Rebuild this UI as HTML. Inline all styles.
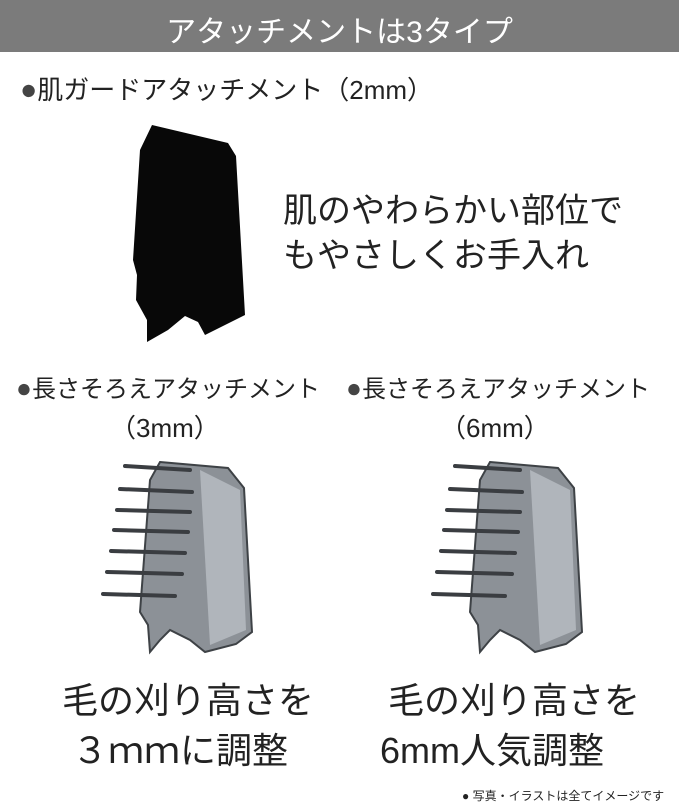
<!DOCTYPE html>
<html><head><meta charset="utf-8"><style>
body{margin:0;width:679px;height:806px;background:#fff;position:relative;overflow:hidden;font-family:"Liberation Sans","Noto Sans CJK JP",sans-serif;color:#222}
.t{position:absolute;white-space:nowrap}
.d{font-size:1.1em;color:#444}
</style></head><body>
<div style="position:absolute;left:0;top:0;width:679px;height:52px;background:#7b7b7b"></div>
<div class="t" style="left:0;width:679px;top:7px;text-align:center;color:#fff;font-size:30px">アタッチメントは3タイプ</div>
<div class="t" style="left:20px;top:70px;font-size:26px"><span class="d">●</span>肌ガードアタッチメント（2mm）</div>
<div class="t" style="left:283px;top:183px;font-size:34px">肌のやわらかい部位で</div>
<div class="t" style="left:283px;top:228px;font-size:34px">もやさしくお手入れ</div>
<div class="t" style="left:16px;top:369px;font-size:24px"><span class="d">●</span>長さそろえアタッチメント</div>
<div class="t" style="left:110px;top:408px;font-size:26px">（3mm）</div>
<div class="t" style="left:346px;top:369px;font-size:24px"><span class="d">●</span>長さそろえアタッチメント</div>
<div class="t" style="left:440px;top:408px;font-size:26px">（6mm）</div>
<div class="t" style="left:62px;top:672px;font-size:36px">毛の刈り高さを</div>
<div class="t" style="left:72px;top:722px;font-size:36px">３ｍｍに調整</div>
<div class="t" style="left:388px;top:672px;font-size:36px">毛の刈り高さを</div>
<div class="t" style="left:380px;top:722px;font-size:36px">6mm人気調整</div>
<div class="t" style="left:462px;top:787px;font-size:12px">● 写真・イラストは全てイメージです</div>
<svg width="679" height="806" style="position:absolute;left:0;top:0">
<defs>
<g id="comb">
<path d="M160,462 L228,468 L244,488 L252,632 L236,644 L205,652 L190,640 L170,630 L160,640 L150,652 L148,625 L140,612 L150,480 Z" fill="#8c9197" stroke="#3e4246" stroke-width="2"/>
<path d="M200,470 L240,490 L246,630 L210,645 Z" fill="#b0b5bb"/>
<g stroke="#3a3d41" stroke-width="4" stroke-linecap="round">
<line x1="125" y1="466" x2="190" y2="470"/>
<line x1="120" y1="489" x2="192" y2="492"/>
<line x1="117" y1="510" x2="190" y2="512"/>
<line x1="114" y1="530" x2="188" y2="532"/>
<line x1="111" y1="551" x2="185" y2="553"/>
<line x1="107" y1="572" x2="182" y2="574"/>
<line x1="103" y1="594" x2="175" y2="596"/>
</g>
</g>
</defs>
<path d="M152,125 L228,143 L236,156 L245,315 L205,335 L198,322 L185,316 L168,330 L147,342 L147,320 L136,300 L137,275 L133,260 L140,150 Z" fill="#080808"/>
<use href="#comb"/>
<use href="#comb" transform="translate(330,0)"/>
</svg>
</body></html>
